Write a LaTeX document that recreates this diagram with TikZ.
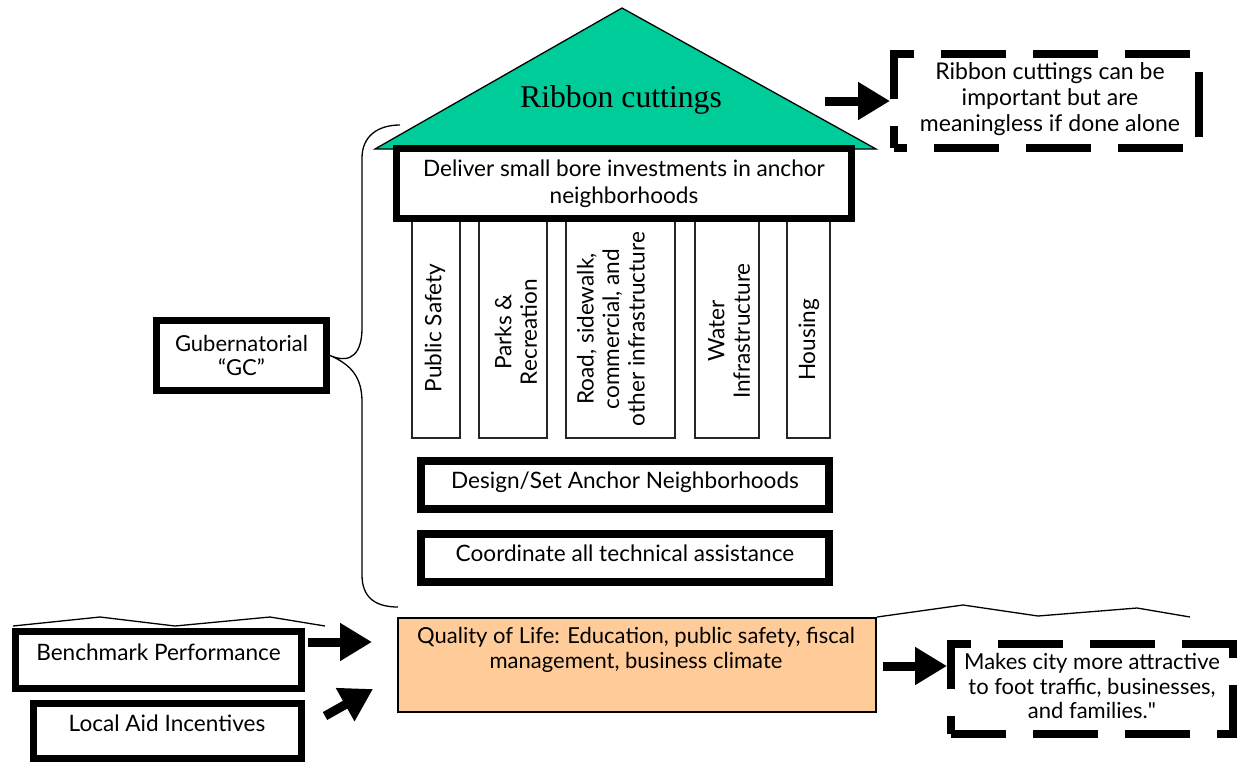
\documentclass[tikz,border=0pt]{standalone}
\usepackage{fontspec}
\setmainfont{Liberation Serif}
\setsansfont{Lato}
\usetikzlibrary{arrows.meta}
\definecolor{roofgreen}{HTML}{00CC99}
\definecolor{peach}{HTML}{FFCC99}
\newcommand{\straightdq}{{\addfontfeatures{Ligatures=TeXOff}"}}
\tikzset{
  thickbox/.style={draw=black, line width=7pt, fill=white, inner sep=0pt, align=center,
    font=\sffamily\fontsize{22.6}{27}\selectfont},
  pillar/.style={draw=black!85, line width=1.5pt, fill=white, inner sep=0pt},
  pillartext/.style={rotate=90, align=center, inner sep=0pt,
    font=\sffamily\fontsize{22.6}{25.5}\selectfont},
  dashbox/.style={draw=black, line width=8pt, dash pattern=on 65pt off 27pt, fill=white,
    inner sep=0pt, align=center},
  plaintext/.style={inner sep=0pt, align=center, font=\sffamily\fontsize{22.6}{27}\selectfont},
  condtext/.style={inner sep=0pt, align=center, font=\sffamily\fontsize{22}{24.5}\selectfont},
  bigarrow/.style={line width=9pt, -{Triangle[length=32pt,width=36pt]}},
  thinline/.style={line width=1.3pt},
}
\begin{document}
\begin{tikzpicture}[x=1pt, y=-1pt]
\useasboundingbox (0,0) rectangle (1241,763);

% roof
\filldraw[fill=roofgreen, thinline] (622,8) -- (876,149) -- (375,149) -- cycle;
\node[anchor=base, inner sep=0pt, font=\rmfamily\fontsize{31.7}{34}\selectfont] (roof) at (621,107) {Ribbon cuttings};

% pillars
\node[pillar, minimum width=48, minimum height=223] (p1) at (436,326.5) {};
\node[pillar, minimum width=68, minimum height=223] (p2) at (513,326.5) {};
\node[pillar, minimum width=109, minimum height=223] (p3) at (620.5,326.5) {};
\node[pillar, minimum width=64, minimum height=223] (p4) at (727,326.5) {};
\node[pillar, minimum width=43, minimum height=223] (p5) at (808.5,326.5) {};
\node[pillartext] (t1) at (435,328) {Public Safety};
\node[pillartext] (t2) at (516,332) {Parks \&\\Recreation};
\node[pillartext] (t3) at (611,329) {Road, sidewalk,\\commercial, and\\other infrastructure};
\node[pillartext] (t4) at (729,331) {Water\\Infrastructure};
\node[pillartext] (t5) at (809,340) {Housing};

% beam
\node[thickbox, minimum width=455, minimum height=70] (deliver) at (624,183.5)
  {Deliver small bore investments in anchor\\neighborhoods};

% foundation
\node[thickbox, line width=8pt, minimum width=408, minimum height=48] (design) at (625,485) {};
\node[plaintext] (designt) at (625,482) {Design/Set Anchor Neighborhoods};
\node[thickbox, line width=8pt, minimum width=408, minimum height=48] (coord) at (625,558) {};
\node[plaintext] (coordt) at (625,553) {Coordinate all technical assistance};

% GC box and brace
\node[thickbox, minimum width=170, minimum height=70, font=\sffamily\fontsize{22}{24}\selectfont] (gc) at (241.5,355.5)
  {Gubernatorial\\\textquotedblleft GC\textquotedblright};
\draw[thinline] (400,125) .. controls (378,125) and (362,136) .. (362,158)
  -- (362,328) .. controls (362,352) and (352,365) .. (gc.east)
  .. controls (352,365) and (362,378) .. (362,402)
  -- (362,575) .. controls (362,598) and (376,607) .. (398,607);

% ribbon comment
\node[dashbox, dash phase=52pt, minimum width=305, minimum height=94] (rcomm) at (1046.5,101) {};
\node[plaintext, font=\sffamily\fontsize{23}{26}\selectfont] (rcommt) at (1050,99)
  {Ribbon cuttings can be\\important but are\\meaningless if done alone};
\coordinate (ra) at (825,101);
\draw[bigarrow] (ra) -- (rcomm.west |- ra);

% bottom left
\draw[thinline] (13,626) -- (100,617) -- (175,626) -- (270,617) -- (325,626);
\node[thickbox, minimum width=286, minimum height=57] (bench) at (158.5,660) {};
\node[plaintext] (bencht) at (158.5,652) {Benchmark Performance};
\node[thickbox, minimum width=268, minimum height=55] (lai) at (167.5,731) {};
\node[plaintext] (lait) at (167,723) {Local Aid Incentives};

% quality of life
\node[draw=black, line width=2pt, fill=peach, minimum width=478, minimum height=94, inner sep=0pt] (qol) at (637,665) {};
\node[condtext] (qolt) at (636,650) {Quality of Life: Education, public safety, fiscal\\management, business climate};
\coordinate (b1) at (308,642);
\draw[bigarrow, shorten >=25pt] (b1) -- (qol.west |- b1);
\coordinate (l1) at (325,716);
\coordinate (l2) at (373,689);
\draw[bigarrow] (l1) -- (l2);

% right zigzag
\draw[thinline] (qol.north east) -- (963,605) -- (1038,616) -- (1137,608) -- (1190,617);

% makes city
\node[dashbox, dash phase=10pt, minimum width=282, minimum height=90] (city) at (1092,689) {};
\node[condtext] (cityt) at (1092,686) {Makes city more attractive\\to foot traffic, businesses,\\and families.\straightdq};
\coordinate (c1) at (883,666);
\draw[bigarrow] (c1) -- (city.west |- c1);
\end{tikzpicture}
\end{document}
